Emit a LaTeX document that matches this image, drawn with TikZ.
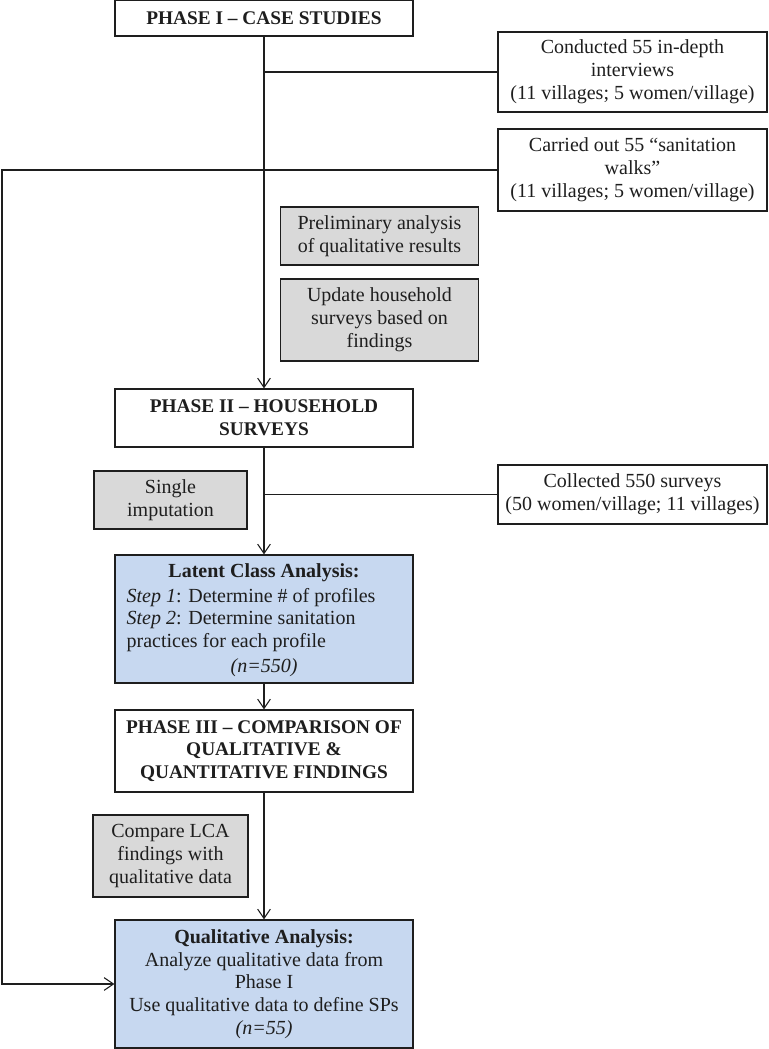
\documentclass[tikz,border=0pt]{standalone}
\usepackage{fontspec}
\setmainfont{Liberation Serif}
\usetikzlibrary{arrows.meta}
\definecolor{swInk}{HTML}{1E1E1E}
\definecolor{swGrey}{HTML}{D9D9D9}
\definecolor{swBlue}{HTML}{C7D8F0}
\tikzset{
  every node/.style={font=\fontsize{15}{17.1}\selectfont, text=swInk},
  phase/.style={rectangle, draw=swInk, fill=white, line width=0.9pt,
    minimum width=223.5pt, minimum height=43.5pt, align=center, inner sep=0pt,
    font=\fontsize{14.5}{17.1}\selectfont\bfseries},
  fieldwork/.style={rectangle, draw=swInk, fill=white, line width=0.9pt,
    minimum width=201.75pt, minimum height=60pt, align=center, inner sep=0pt},
  analysisStep/.style={rectangle, draw=swInk, fill=swGrey, line width=0.9pt,
    minimum width=148.5pt, minimum height=43.5pt, align=center, inner sep=0pt},
  resultCard/.style={rectangle, draw=swInk, fill=swBlue, line width=0.9pt,
    minimum width=223.5pt, minimum height=96pt, align=center, inner sep=0pt},
  flow/.style={-{Straight Barb[length=7pt,width=9.5pt]}, line width=0.8pt,
    color=swInk},
  link/.style={line width=0.8pt, color=swInk},
}

\begin{document}
\begin{tikzpicture}[x=0.75pt,y=-0.75pt]
  \useasboundingbox (0,0) rectangle (768,1049);

  % Phase I: case studies and their field work.
  \node[phase, minimum height=27pt] (phaseI) at (264,18) {PHASE I -- CASE STUDIES};
  \node[fieldwork] (interviews) at (632.5,72)
    {Conducted 55 in-depth\\interviews\\(11 villages; 5 women/village)};
  \node[fieldwork, minimum height=61.5pt] (walks) at (632.5,170)
    {Carried out 55 “sanitation\\walks”\\(11 villages; 5 women/village)};
  \node[analysisStep] (prelim) at (379.5,236)
    {Preliminary analysis\\of qualitative results};
  \node[analysisStep, minimum height=61.5pt] (update) at (379.5,320)
    {Update household\\surveys based on\\findings};

  % Phase II: household surveys.
  \node[phase] (phaseII) at (264,418) {PHASE II -- HOUSEHOLD\\SURVEYS};
  \node[analysisStep, minimum width=114.75pt] (imput) at (170.5,500)
    {Single\\imputation};
  \node[fieldwork, minimum height=44.25pt] (collected) at (632.5,494.5)
    {Collected 550 surveys\\(50 women/village; 11 villages)};

  \node[resultCard] (lca) at (264,619) {};
  \node[font=\fontsize{15}{17.1}\selectfont\bfseries] (lcaTitle)
    at ([yshift=-13.5pt]lca.north) {Latent Class Analysis:};
  \node[align=left, anchor=north west, inner sep=0pt] (lcaSteps)
    at ([xshift=9pt,yshift=-25pt]lca.north west)
    {\textit{Step 1}: Determine \# of profiles\\
     \textit{Step 2}: Determine sanitation\\
     practices for each profile};
  \node (lcaN) at ([yshift=12pt]lca.south) {\textit{(n=550)}};

  % Phase III: comparison.
  \node[phase, minimum height=61.5pt] (phaseIII) at (264,751)
    {PHASE III -- COMPARISON OF\\QUALITATIVE \&\\QUANTITATIVE FINDINGS};
  \node[analysisStep, minimum width=116.25pt, minimum height=61.5pt] (compare)
    at (170.5,856) {Compare LCA\\findings with\\qualitative data};
  \node[resultCard] (qual) at (264,984)
    {\textbf{Qualitative Analysis:}\\Analyze qualitative data from\\Phase I\\
     Use qualitative data to define SPs\\\textit{(n=55)}};

  % Connectors.
  \coordinate (rail) at (2,170);
  \draw[flow] (phaseI.south) -- (phaseII.north);
  \draw[link] (phaseI.south |- interviews.west) -- (interviews.west);
  \draw[flow] (walks.west) -- (rail) -- (rail |- qual.west) -- (qual.west);
  \draw[flow] (phaseII.south) -- (lca.north);
  \draw[link] (phaseII.south |- collected.west) -- (collected.west);
  \draw[flow] (lca.south) -- (phaseIII.north);
  \draw[flow] (phaseIII.south) -- (qual.north);
\end{tikzpicture}
\end{document}
